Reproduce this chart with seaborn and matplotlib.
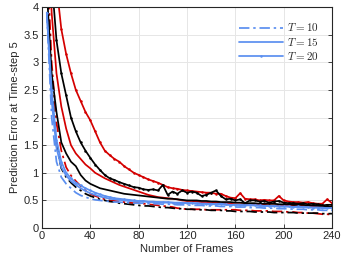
import numpy as np
import pandas as pd
import matplotlib
matplotlib.use("Agg")
import matplotlib.pyplot as plt
import seaborn as sns

sns.set_theme(style="whitegrid")
plt.rcParams['font.family'] = ['Liberation Sans', 'DejaVu Sans']
plt.rcParams['mathtext.fontset'] = 'cm'

# frame counts (shared x grid)
frames = list(range(4, 241, 4))

# blue curves
blue_t10 = [3.9, 2.0, 1.2, 0.92, 0.8, 0.72, 0.64, 0.59, 0.56, 0.53,
            0.51, 0.5, 0.49, 0.48, 0.47, 0.47, 0.46, 0.46, 0.45, 0.45,
            0.45, 0.44, 0.44, 0.44, 0.43, 0.43, 0.43, 0.42, 0.42, 0.42,
            0.41, 0.41, 0.41, 0.4, 0.4, 0.4, 0.39, 0.39, 0.39, 0.38,
            0.38, 0.38, 0.37, 0.37, 0.37, 0.36, 0.36, 0.36, 0.35, 0.35,
            0.35, 0.34, 0.34, 0.34, 0.33, 0.33, 0.33, 0.32, 0.32, 0.32]
blue_t15 = [3.9, 2.3, 1.45, 1.1, 0.95, 0.85, 0.78, 0.72, 0.67, 0.63,
            0.6, 0.57, 0.55, 0.53, 0.52, 0.51, 0.5, 0.49, 0.49, 0.48,
            0.48, 0.47, 0.47, 0.47, 0.46, 0.46, 0.46, 0.45, 0.45, 0.45,
            0.45, 0.44, 0.44, 0.44, 0.43, 0.43, 0.43, 0.42, 0.42, 0.42,
            0.42, 0.41, 0.41, 0.41, 0.4, 0.4, 0.4, 0.4, 0.39, 0.39,
            0.39, 0.38, 0.38, 0.38, 0.37, 0.37, 0.37, 0.36, 0.36, 0.36]
blue_t20 = [3.9, 2.5, 1.6, 1.2, 1.0, 0.9, 0.82, 0.77, 0.72, 0.68,
            0.64, 0.61, 0.58, 0.56, 0.54, 0.53, 0.52, 0.51, 0.5, 0.49,
            0.49, 0.48, 0.48, 0.47, 0.47, 0.47, 0.46, 0.46, 0.46, 0.45,
            0.45, 0.45, 0.44, 0.44, 0.44, 0.43, 0.44, 0.43, 0.42, 0.42,
            0.42, 0.41, 0.42, 0.41, 0.41, 0.4, 0.4, 0.4, 0.39, 0.39,
            0.39, 0.38, 0.39, 0.38, 0.38, 0.37, 0.37, 0.37, 0.36, 0.36]

# black curves
black_t10 = [4.5, 2.6, 1.5, 1.08, 0.92, 0.82, 0.74, 0.68, 0.62, 0.58,
             0.55, 0.52, 0.5, 0.48, 0.47, 0.45, 0.44, 0.43, 0.42, 0.41,
             0.4, 0.4, 0.39, 0.38, 0.37, 0.37, 0.36, 0.35, 0.35, 0.34,
             0.34, 0.33, 0.33, 0.33, 0.32, 0.32, 0.32, 0.31, 0.31, 0.3,
             0.3, 0.3, 0.3, 0.29, 0.29, 0.29, 0.29, 0.28, 0.28, 0.28,
             0.28, 0.28, 0.27, 0.27, 0.27, 0.27, 0.27, 0.26, 0.26, 0.26]
black_t15 = [4.3, 2.8, 2.1, 1.55, 1.35, 1.2, 1.12, 0.96, 0.86, 0.8,
             0.76, 0.72, 0.7, 0.68, 0.66, 0.64, 0.62, 0.61, 0.6, 0.59,
             0.58, 0.57, 0.56, 0.55, 0.54, 0.53, 0.53, 0.52, 0.51, 0.5,
             0.5, 0.5, 0.49, 0.49, 0.48, 0.48, 0.47, 0.47, 0.47, 0.46,
             0.46, 0.45, 0.45, 0.45, 0.44, 0.44, 0.44, 0.44, 0.43, 0.43,
             0.43, 0.42, 0.42, 0.42, 0.41, 0.41, 0.4, 0.4, 0.39, 0.39]
black_t20 = [6.0, 4.5, 3.4, 2.8, 2.4, 2.0, 1.75, 1.55, 1.4, 1.27,
             1.15, 1.05, 0.96, 0.9, 0.87, 0.83, 0.8, 0.77, 0.74, 0.73,
             0.7, 0.69, 0.7, 0.68, 0.78, 0.6, 0.66, 0.62, 0.68, 0.64,
             0.66, 0.64, 0.58, 0.6, 0.64, 0.68, 0.58, 0.52, 0.53, 0.5,
             0.52, 0.45, 0.5, 0.5, 0.48, 0.49, 0.46, 0.48, 0.49, 0.46,
             0.45, 0.45, 0.44, 0.45, 0.43, 0.44, 0.43, 0.41, 0.42, 0.42]

# red curves
red_t10 = [5.0, 3.0, 1.9, 1.4, 1.1, 0.95, 0.85, 0.76, 0.68, 0.62,
           0.58, 0.55, 0.52, 0.5, 0.49, 0.48, 0.47, 0.46, 0.45, 0.45,
           0.44, 0.43, 0.42, 0.41, 0.4, 0.39, 0.38, 0.36, 0.35, 0.34,
           0.34, 0.34, 0.34, 0.33, 0.33, 0.33, 0.33, 0.33, 0.33, 0.33,
           0.32, 0.32, 0.32, 0.31, 0.31, 0.31, 0.31, 0.3, 0.3, 0.3,
           0.29, 0.29, 0.28, 0.28, 0.27, 0.27, 0.26, 0.25, 0.25, 0.24]
red_t15 = [6.0, 3.9, 2.8, 2.2, 1.8, 1.5, 1.35, 1.25, 1.15, 1.08,
           1.0, 0.95, 0.9, 0.86, 0.82, 0.78, 0.75, 0.72, 0.69, 0.66,
           0.63, 0.6, 0.58, 0.56, 0.55, 0.54, 0.53, 0.52, 0.5, 0.49,
           0.49, 0.48, 0.47, 0.47, 0.46, 0.46, 0.45, 0.45, 0.44, 0.43,
           0.43, 0.43, 0.42, 0.42, 0.42, 0.42, 0.41, 0.41, 0.41, 0.41,
           0.4, 0.4, 0.4, 0.4, 0.39, 0.39, 0.39, 0.38, 0.38, 0.38]
red_t20 = [8.0, 6.0, 4.4, 3.6, 3.15, 2.8, 2.5, 2.3, 2.1, 1.95,
           1.75, 1.55, 1.4, 1.32, 1.25, 1.2, 1.12, 1.06, 1.0, 0.96,
           0.92, 0.88, 0.85, 0.82, 0.78, 0.74, 0.72, 0.71, 0.69, 0.68,
           0.67, 0.66, 0.65, 0.64, 0.64, 0.62, 0.62, 0.58, 0.55, 0.54,
           0.63, 0.53, 0.52, 0.52, 0.5, 0.51, 0.5, 0.5, 0.58, 0.5,
           0.48, 0.47, 0.47, 0.46, 0.47, 0.45, 0.44, 0.44, 0.52, 0.45]

BLUE = '#5b8ff0'
BLACK = '#000000'
RED = '#d40000'
DASHDOT = (0, (6, 2.2, 1.4, 2.2))

curves = [
    (red_t10, RED, DASHDOT, None, None),
    (red_t15, RED, '-', None, None),
    (red_t20, RED, '-', 'o', None),
    (black_t10, BLACK, DASHDOT, None, None),
    (black_t15, BLACK, '-', None, None),
    (black_t20, BLACK, '-', 'o', None),
    (blue_t10, BLUE, DASHDOT, None, '$T = 10$'),
    (blue_t15, BLUE, '-', None, '$T = 15$'),
    (blue_t20, BLUE, '-', 'o', '$T = 20$'),
]

fig = plt.figure(figsize=(3.43, 2.63), dpi=100)
ax = fig.add_axes([0.1224, 0.133, 0.8456, 0.840])

for vals, col, ls, mk, lab in curves:
    d = pd.DataFrame({'frames': frames, 'err': vals})
    sns.lineplot(data=d, x='frames', y='err', ax=ax, color=col,
                 linestyle=ls, marker=mk, markersize=1.8, markeredgewidth=0,
                 linewidth=1.25, label=lab, legend=False)

ax.set_xlim(0, 240)
ax.set_ylim(0, 4)
ax.set_xticks(np.arange(0, 241, 40))
ax.set_yticks(np.arange(0, 4.01, 0.5))
ax.set_yticklabels(['0', '0.5', '1', '1.5', '2', '2.5', '3', '3.5', '4'])
ax.set_xlabel('Number of Frames', fontsize=8, labelpad=1.5, color='#262626')
ax.set_ylabel('Prediction Error at Time-step 5', fontsize=8, labelpad=2,
              color='#262626')

ax.set_facecolor('white')
ax.grid(True, color='#e6e6e6', linewidth=0.7)
for sp in ax.spines.values():
    sp.set_visible(True)
    sp.set_color('#262626')
    sp.set_linewidth(0.8)
ax.tick_params(axis='both', which='both', direction='in', length=3,
               width=0.6, colors='#262626', labelsize=8, pad=2.5,
               left=True, bottom=True, right=True, top=False)

handles, labels = ax.get_legend_handles_labels()
ax.legend(handles, labels, loc='upper right', bbox_to_anchor=(0.955, 0.935),
          frameon=False, fontsize=8, handlelength=4.0, handletextpad=0.35,
          labelspacing=0.2, borderaxespad=0, borderpad=0)

fig.savefig('out.png', dpi=100)
